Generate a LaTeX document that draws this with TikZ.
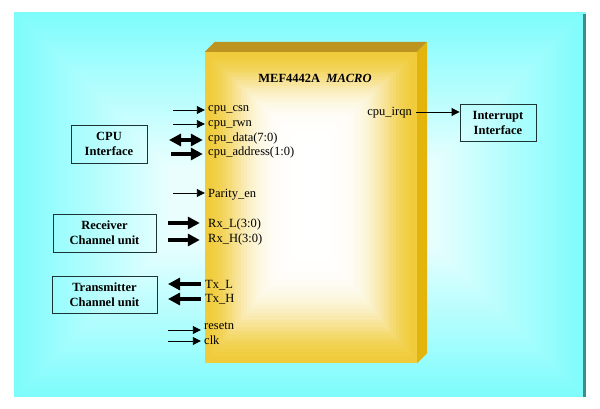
\documentclass[tikz,border=0pt]{standalone}
\usepackage{fontspec}
\setmainfont{Liberation Serif}
\usetikzlibrary{arrows.meta,positioning}
\definecolor{framecyan}{HTML}{7EFCFC}
\definecolor{frameedge}{HTML}{3E8C8C}
\definecolor{macrogold}{HTML}{F0CC3C}
\definecolor{macrotop}{HTML}{BE9420}
\definecolor{macroside}{HTML}{E2B40C}
\definecolor{unitline}{HTML}{1C3434}

\begin{document}
\begin{tikzpicture}[x=1pt, y=-1pt,
  unit/.style={draw=unitline, line width=0.9pt, inner sep=2pt, align=center, font=\fontsize{12.5}{15}\selectfont\bfseries},
  sig/.style={anchor=base west, inner sep=0pt, font=\fontsize{12.5}{14}\selectfont},
  wire/.style={-{Triangle[length=8pt, width=8pt]}, line width=0.9pt},
  bus/.style={-{Triangle[length=12pt, width=12pt]}, line width=4pt},
  bibus/.style={{Triangle[length=12pt, width=12pt]}-{Triangle[length=12pt, width=12pt]}, line width=4pt}
]
\useasboundingbox (0,0) rectangle (600,409);
\fill[white] (0,0) rectangle (600,409);
% cyan frame, lighter towards the middle
\foreach \i [evaluate=\i as \p using {max(100-1.9*\i,12)}] in {0,...,44}
  \fill[framecyan!\p!white] (14+3.5*\i,12+3.5*\i) rectangle (586-3.5*\i,397-3.5*\i);
\fill[frameedge] (583,14) rectangle (586,397);

% the macro block
\node[minimum width=212pt, minimum height=311pt, inner sep=0pt] (macro) at (311,207.5) {};
\fill[macrotop] (macro.north west) -- ++(10,-10) -- ([shift={(10,-10)}]macro.north east) -- (macro.north east) -- cycle;
\fill[macroside] (macro.north east) -- ++(10,-10) -- ([shift={(10,-10)}]macro.south east) -- (macro.south east) -- cycle;
\foreach \i [evaluate=\i as \p using {100*exp(-(\i/13)^2)}] in {0,...,33}
  \fill[macrogold!\p!white] (205+3*\i,52+2.8*\i) rectangle (417-3*\i,363-3.6*\i);
\node[font=\fontsize{12.5}{15}\selectfont\bfseries, anchor=base] (title) at (315,83) {MEF4442A\ \ \textit{MACRO}};

% signal names
\node[sig] (csn) at (208,112) {cpu\_csn};
\node[sig] (rwn) at (208,127) {cpu\_rwn};
\node[sig] (data) at (208,141.5) {cpu\_data(7:0)};
\node[sig] (addr) at (208,156) {cpu\_address(1:0)};
\node[sig] (parity) at (208,197.5) {Parity\_en};
\node[sig] (rxl) at (208,227.5) {Rx\_L(3:0)};
\node[sig] (rxh) at (208,242) {Rx\_H(3:0)};
\node[sig] (txl) at (205,288) {Tx\_L};
\node[sig] (txh) at (205,302.5) {Tx\_H};
\node[sig] (rst) at (204,329) {resetn};
\node[sig] (clk) at (204,344) {clk};
\node[sig, anchor=base east] (irqn) at (412,116) {cpu\_irqn};

% outside units
\node[unit, minimum width=76pt, minimum height=38pt] (cpu) at (109,144) {CPU\\Interface};
\node[unit, minimum width=76pt, minimum height=37pt] (irq) at (498,122.5) {Interrupt\\Interface};
\node[unit, minimum width=103pt, minimum height=38pt] (rx) at (104.5,233) {Receiver\\Channel unit};
\node[unit, minimum width=105pt, minimum height=37pt] (tx) at (104.5,294.5) {Transmitter\\Channel unit};

% pins
\coordinate (csn-src) at (173,110);
\coordinate (rwn-src) at (173,124);
\coordinate (data-src) at (169,140);
\coordinate (addr-src) at (171,154);
\coordinate (parity-src) at (173,193);
\coordinate (rxl-src) at (168,223);
\coordinate (rxh-src) at (168,240);
\coordinate (txl-dst) at (168,284);
\coordinate (txh-dst) at (168,299);
\coordinate (rst-src) at (168,330);
\coordinate (clk-src) at (168,341);
\draw[wire] (csn-src) -- (csn-src -| macro.west);
\draw[wire] (rwn-src) -- (rwn-src -| macro.west);
\draw[bibus] (data-src) -- ([xshift=-2pt]data-src -| macro.west);
\draw[bus] (addr-src) -- ([xshift=-2pt]addr-src -| macro.west);
\draw[wire] (parity-src) -- (parity-src -| macro.west);
\draw[bus] (rxl-src) -- ([xshift=-5pt]rxl-src -| macro.west);
\draw[bus] (rxh-src) -- ([xshift=-5pt]rxh-src -| macro.west);
\draw[bus] ([xshift=-4pt]txl-dst -| macro.west) -- (txl-dst);
\draw[bus] ([xshift=-4pt]txh-dst -| macro.west) -- (txh-dst);
\draw[wire] (rst-src) -- ([xshift=-4pt]rst-src -| macro.west);
\draw[wire] (clk-src) -- ([xshift=-4pt]clk-src -| macro.west);
\draw[wire] ([xshift=4pt]irqn.east |- 0,112) -- (irq.west |- 0,112);
\end{tikzpicture}
\end{document}
